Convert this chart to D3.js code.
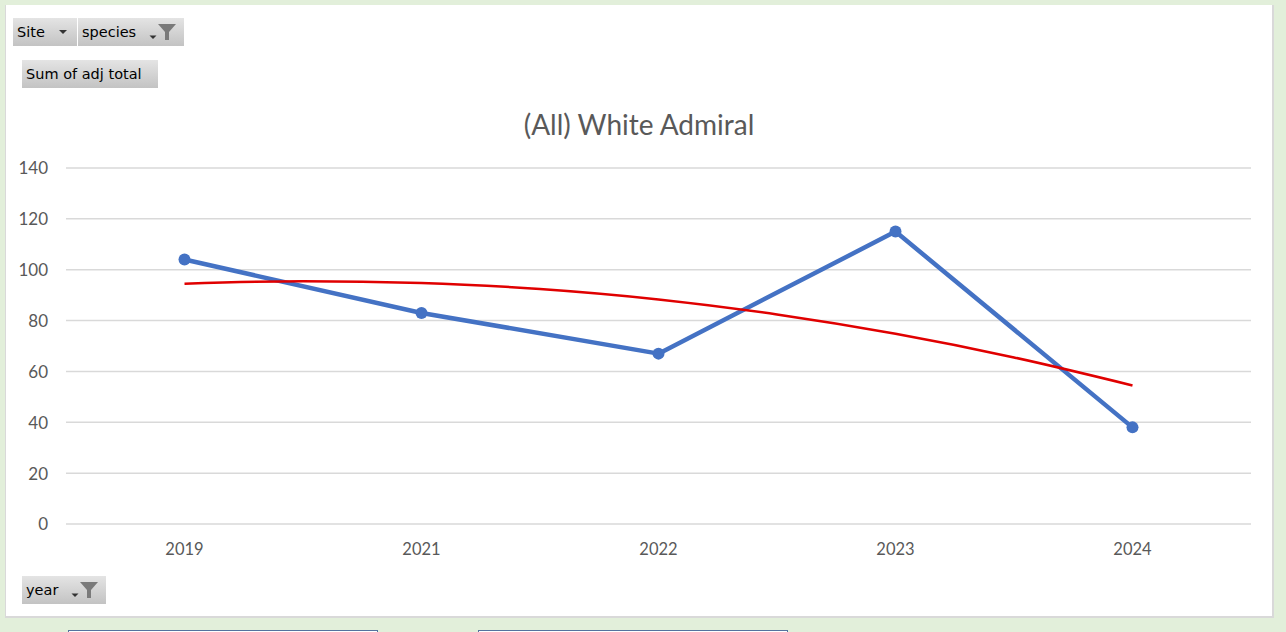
<!DOCTYPE html>
<html><head><meta charset="utf-8">
<script src="https://cdn.jsdelivr.net/npm/d3@7"></script>
<style>
html,body{margin:0;padding:0;background:#e2efda;}
svg{display:block;}
</style></head>
<body>
<script>
const categories = ["2019","2021","2022","2023","2024"];
const values = [104, 83, 67, 115, 38];
// trend line (polynomial) at half-category steps
const trendPos = [0, 0.5, 1, 1.5, 2, 2.5, 3, 3.5, 4];
const trendVals = [94.5, 95.5, 94.8, 92.4, 88.3, 82.4, 74.8, 65.5, 54.5];
const yTicks = [0, 20, 40, 60, 80, 100, 120, 140];
const titleText = "(All) White Admiral";

const W = 1286, H = 632;
const svg = d3.select("body").append("svg").attr("width", W).attr("height", H);

// background chart card
svg.append("rect").attr("x", 0).attr("y", 0).attr("width", W).attr("height", H).attr("fill", "#e2efda");
svg.append("rect").attr("x", 5).attr("y", 5).attr("width", 1269).attr("height", 613)
  .attr("fill", "#d9d9d9");
svg.append("rect").attr("x", 6).attr("y", 5).attr("width", 1266).attr("height", 611)
  .attr("fill", "#ffffff");

// bottom boxes (partially visible)
[[68, 377], [478, 787]].forEach(([a, b]) => {
  svg.append("rect").attr("x", a + 0.5).attr("y", 630.5).attr("width", b - a).attr("height", 12)
    .attr("fill", "#ffffff").attr("stroke", "#55739f").attr("stroke-width", 1);
});

const x = d3.scaleBand().domain(categories).range([66, 1251]);
const y = d3.scaleLinear().domain([0, 140]).range([524, 168]);

// gridlines
svg.append("g").selectAll("line").data(yTicks).join("line")
  .attr("x1", 66).attr("x2", 1251)
  .attr("y1", d => y(d)).attr("y2", d => y(d))
  .attr("stroke", "#d9d9d9").attr("stroke-width", 1.5);

// y axis labels
const yAxis = d3.axisLeft(y).tickValues(yTicks).tickSize(0).tickPadding(0);
const gy = svg.append("g").attr("transform", "translate(48,0)").call(yAxis);
gy.select(".domain").remove();
gy.selectAll("text").attr("font-family", "Lato, 'Open Sans', sans-serif").attr("font-size", 17)
  .attr("fill", "#595959").attr("dy", "0.35em");

// x axis labels
const xAxis = d3.axisBottom(x).tickSize(0).tickPadding(0);
const gx = svg.append("g").attr("transform", "translate(0,543)").call(xAxis);
gx.select(".domain").remove();
gx.selectAll("text").attr("font-family", "Lato, 'Open Sans', sans-serif").attr("font-size", 16.5)
  .attr("fill", "#595959");

// title
svg.append("text").attr("x", 639).attr("y", 135).attr("text-anchor", "middle")
  .attr("font-family", "Lato, 'Open Sans', sans-serif").attr("font-size", 28)
  .attr("fill", "#595959").text(titleText);

const cx = d => x(d) + x.bandwidth() / 2;

// series line
const line = d3.line().x((d, i) => cx(categories[i])).y(d => y(d));
svg.append("path").datum(values).attr("d", line)
  .attr("fill", "none").attr("stroke", "#4472c4").attr("stroke-width", 4.5)
  .attr("stroke-linejoin", "round");
svg.append("g").selectAll("circle").data(values).join("circle")
  .attr("cx", (d, i) => cx(categories[i])).attr("cy", d => y(d)).attr("r", 6)
  .attr("fill", "#4472c4");

// trend line
const xPos = d3.scaleLinear().domain([0, categories.length - 1])
  .range([cx(categories[0]), cx(categories[categories.length - 1])]);
const tline = d3.line().x((d, i) => xPos(trendPos[i])).y(d => y(d)).curve(d3.curveMonotoneX);
svg.append("path").datum(trendVals).attr("d", tline)
  .attr("fill", "none").attr("stroke", "#e00000").attr("stroke-width", 2.5);

// pivot field buttons
const defs = svg.append("defs");
const grad = defs.append("linearGradient").attr("id", "btn").attr("x1", 0).attr("y1", 0).attr("x2", 0).attr("y2", 1);
grad.append("stop").attr("offset", "0%").attr("stop-color", "#e4e4e4");
grad.append("stop").attr("offset", "100%").attr("stop-color", "#c3c3c3");

function button(x0, y0, w, h, label, kind) {
  const g = svg.append("g");
  g.append("rect").attr("x", x0).attr("y", y0).attr("width", w).attr("height", h).attr("fill", "url(#btn)");
  g.append("text").attr("x", x0 + 4).attr("y", y0 + h / 2 + 5)
    .attr("font-family", "'DejaVu Sans', sans-serif").attr("font-size", 14.5)
    .attr("fill", "#000").text(label);
  if (kind === "arrow") {
    const ax = x0 + w - 14, ay = y0 + h / 2;
    g.append("path").attr("d", `M${ax - 4},${ay - 2}L${ax + 4},${ay - 2}L${ax},${ay + 2}Z`).attr("fill", "#333");
  } else if (kind === "filter") {
    const fx = x0 + w - 17, fy = y0 + 6;
    g.append("path").attr("d", `M${fx - 9},${fy}L${fx + 9},${fy}L${fx + 2},${fy + 8}L${fx + 2},${fy + 16}L${fx - 2},${fy + 16}L${fx - 2},${fy + 8}Z`)
      .attr("fill", "#7a7a7a");
    const ax = fx - 14, ay = fy + 13;
    g.append("path").attr("d", `M${ax - 3.5},${ay - 1.5}L${ax + 3.5},${ay - 1.5}L${ax},${ay + 2}Z`).attr("fill", "#333");
  }
}
button(13, 18, 64, 28, "Site", "arrow");
button(78, 18, 106, 28, "species", "filter");
button(22, 60, 136, 28, "Sum of adj total", null);
button(22, 576, 84, 28, "year", "filter");
</script>
</body></html>
